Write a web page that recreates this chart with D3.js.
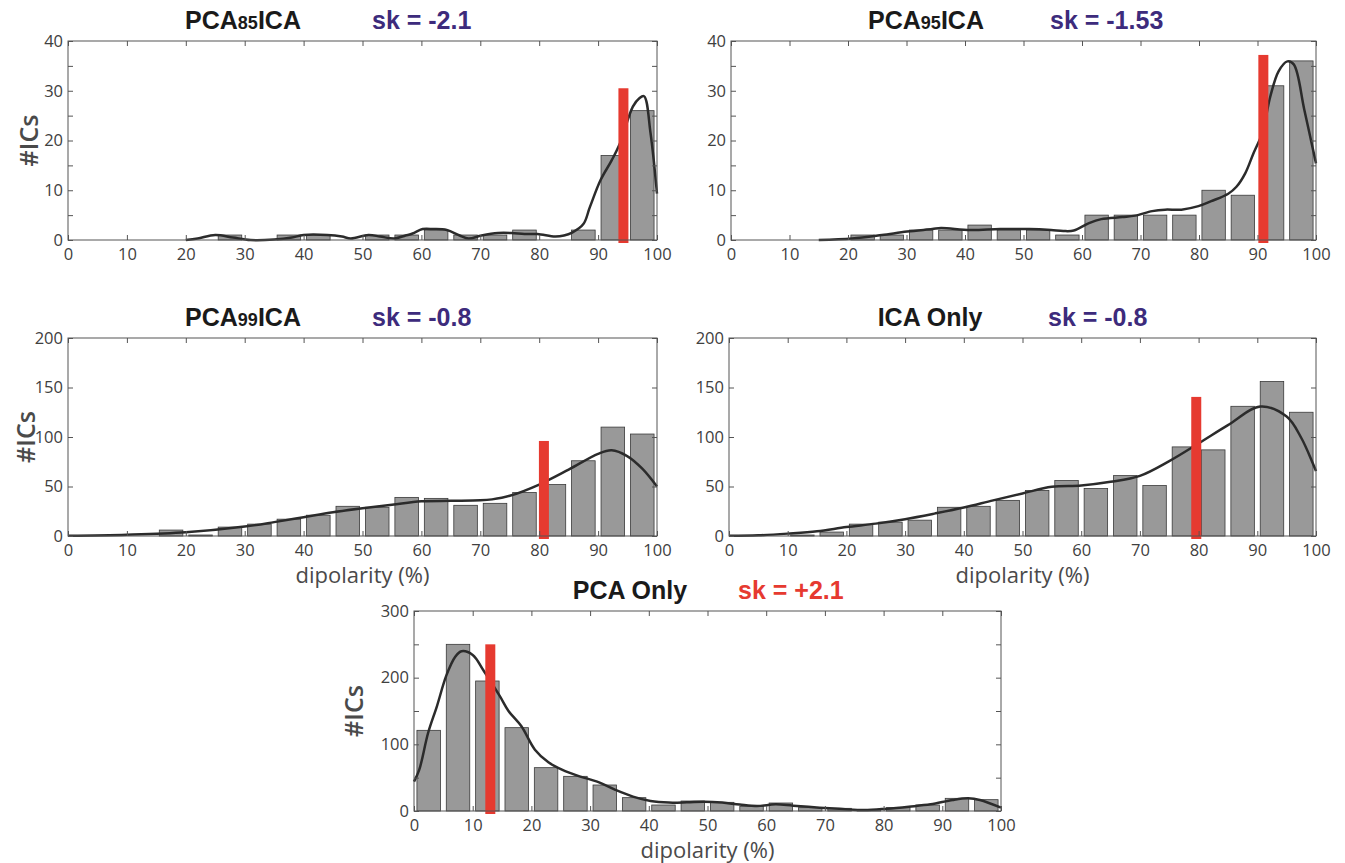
<!DOCTYPE html>
<html>
<head>
<meta charset="utf-8">
<script src="https://cdn.jsdelivr.net/npm/d3@7"></script>
<style>
  body { margin: 0; background: #fff; }
  .tick text { font-family: "Open Sans", sans-serif; font-size: 16.5px; fill: #404040; }
  .tick line { stroke: #555; }
  .bar { fill: #999999; stroke: #3a3a3a; stroke-width: 0.8; }
  .kde { fill: none; stroke: #2b2b2b; stroke-width: 2.5; }
  .median { fill: #e63a30; }
  .title { font-family: "Liberation Sans", Arial, sans-serif; font-weight: bold; font-size: 25px; fill: #1a1a1a; }
  .sk { font-family: "Liberation Sans", Arial, sans-serif; font-weight: bold; font-size: 25px; }
  .ylabel { font-family: "Open Sans", sans-serif; font-weight: 600; font-size: 25px; fill: #4a4a4a; }
  .xlabel { font-family: "Open Sans", sans-serif; font-size: 22px; fill: #4a4a4a; }
</style>
</head>
<body>
<div id="chart"></div>
<script>
// histogram bins (dipolarity %), 5-wide
var binStarts = [0, 5, 10, 15, 20, 25, 30, 35, 40, 45, 50, 55, 60, 65, 70, 75, 80, 85, 90, 95];
var binWidth = 5;

// counts per bin
var pca85Counts = [0, 0, 0, 0, 0, 1, 0, 1, 1, 0, 1, 1, 2, 1, 1, 2, 0, 2, 17, 26];
var pca95Counts = [0, 0, 0, 0, 1, 1, 2, 2, 3, 2, 2, 1, 5, 5, 5, 5, 10, 9, 31, 36];
var pca99Counts = [0, 0, 0, 6, 1, 9, 12, 17, 21, 30, 29, 39, 38, 31, 33, 44, 52, 76, 110, 103];
var icaCounts   = [0, 0, 1, 4, 12, 14, 16, 29, 30, 36, 46, 56, 48, 61, 51, 90, 87, 131, 156, 125];
var pcaCounts   = [121, 250, 195, 125, 65, 52, 39, 20, 9, 15, 13, 7, 12, 5, 4, 2, 5, 9, 19, 17];

// density curves
var pca85CurveX = [20, 22, 25, 28, 31, 35, 38, 40, 44, 46.5, 48, 51, 53, 55.4, 57.3, 58.5, 60.2, 62, 64.3, 66.5, 68, 70.2, 73, 75.3, 77.5, 79.7, 82.7, 84.2, 85.6, 87.5, 88.6, 90.4, 92.3, 93.7, 95.9, 97, 97.8, 98.9, 100];
var pca85CurveY = [0, 0.3, 1.0, 0.5, 0, 0.1, 0.5, 1.0, 1.0, 0.7, 0.3, 1.0, 0.7, 0.3, 0.9, 1.3, 2.2, 2.2, 2.0, 0.9, 0.3, 0.9, 1.4, 1.4, 1.2, 1.2, 0.7, 0.9, 1.5, 3.2, 6.6, 12, 16, 19.4, 26.8, 28.5, 28.9, 21.5, 9.3];

var pca95CurveX = [15, 20.7, 25.8, 30.1, 34.4, 35.9, 40.9, 46, 51, 54.7, 56.8, 58.6, 61.2, 63.3, 66.9, 69.1, 72, 74.2, 77, 79.9, 82.1, 85, 86.4, 87.9, 89.3, 90.8, 92.2, 93.6, 95.1, 96.2, 98, 100];
var pca95CurveY = [0, 0.3, 1.0, 1.7, 2.2, 2.4, 2.0, 2.2, 2.2, 2.0, 1.8, 1.9, 3.4, 4.2, 4.6, 4.9, 5.8, 6.1, 6.1, 6.8, 7.8, 9.3, 10.7, 13.4, 17.4, 21.5, 28.9, 33.9, 35.9, 35.3, 26.2, 15.4];

var pca99CurveX = [0, 10, 20, 30, 35, 40, 45, 50, 55, 60, 65, 70, 72, 75, 80, 85, 90, 92.3, 95, 97.5, 100];
var pca99CurveY = [0.3, 1.3, 3.7, 9.5, 14, 19, 24, 28, 31.5, 35, 35.5, 36, 37, 40.6, 52, 67, 83, 86.6, 80.5, 68, 50];

var icaCurveX = [0, 5, 10, 15, 20, 25, 30, 35, 40, 45, 50, 55, 60, 65, 70, 75, 80, 85, 90.5, 95, 97.5, 100];
var icaCurveY = [0.2, 0.7, 2.4, 4.7, 9, 12.5, 17, 22.6, 28.7, 36, 43, 49.7, 51, 54.7, 60.8, 75.7, 93.6, 112, 130.7, 120.6, 99, 65.5];

var pcaCurveX = [0, 0.9, 2.4, 3.9, 5.5, 7, 8.1, 10, 11.9, 14.6, 16.1, 18.3, 20.6, 22.9, 25.2, 28.2, 31.2, 34.3, 37.3, 40.3, 43.4, 46.5, 49.5, 52.5, 55.5, 58.5, 61.6, 64.6, 69.1, 73, 76.7, 80.5, 84.3, 88, 91.8, 94.4, 96.4, 100];
var pcaCurveY = [44, 62, 117, 157, 203, 231, 239.6, 234, 210, 172.6, 150, 127, 92, 73, 62, 52, 44, 31.7, 21.6, 15, 12.6, 13, 14, 12.6, 9.6, 7.5, 10, 8, 5, 3, 1.5, 3.5, 6.5, 10, 16.6, 19, 16.6, 5];

// median markers (red) : position and height
var medianX = [94.3, 91, 80.8, 79.6, 13];
var medianTop = [30.5, 37.2, 96, 140.5, 250];

// titles
var titleMain = [["PCA", "85", "ICA"], ["PCA", "95", "ICA"], ["PCA", "99", "ICA"], ["ICA Only"], ["PCA Only"]];
var titleSk = ["sk = -2.1", "sk = -1.53", "sk = -0.8", "sk = -0.8", "sk = +2.1"];

var xTicks = [0, 10, 20, 30, 40, 50, 60, 70, 80, 90, 100];

var width = 1345, height = 863;

var svg = d3.select("#chart").append("svg")
    .attr("width", width)
    .attr("height", height);

// panel layout
var panels = [
  {left: 68,  right: 657,  top: 41,  bottom: 240, yMax: 40,  yStep: 5,  yLabelStep: 10,  counts: pca85Counts, cx: pca85CurveX, cy: pca85CurveY, titleX: 243, skX: 372, ylab: 39, xlab: false, skColor: "#3d2b7c"},
  {left: 731, right: 1316, top: 41,  bottom: 240, yMax: 40,  yStep: 5,  yLabelStep: 10,  counts: pca95Counts, cx: pca95CurveX, cy: pca95CurveY, titleX: 926, skX: 1050, ylab: null, xlab: false, skColor: "#3d2b7c"},
  {left: 68,  right: 657,  top: 338, bottom: 536, yMax: 200, yStep: 50, yLabelStep: 50,  counts: pca99Counts, cx: pca99CurveX, cy: pca99CurveY, titleX: 243, skX: 372, ylab: 42, xlab: true, skColor: "#3d2b7c"},
  {left: 729, right: 1316, top: 338, bottom: 536, yMax: 200, yStep: 50, yLabelStep: 50,  counts: icaCounts,   cx: icaCurveX,   cy: icaCurveY,   titleX: 930, skX: 1048, ylab: null, xlab: true, skColor: "#3d2b7c"},
  {left: 414, right: 1001, top: 611, bottom: 811, yMax: 300, yStep: 50, yLabelStep: 100, counts: pcaCounts,   cx: pcaCurveX,   cy: pcaCurveY,   titleX: 630, skX: 738, ylab: 60, xlab: true, skColor: "#e63a30"}
];

panels.forEach(function(p, i) {
  var x = d3.scaleLinear().domain([0, 100]).range([p.left, p.right]);
  var y = d3.scaleLinear().domain([0, p.yMax]).range([p.bottom, p.top]);
  var g = svg.append("g");

  // bars
  var bins = binStarts.map(function(b, j) { return {x0: b, v: p.counts[j]}; })
      .filter(function(d) { return d.v > 0; });
  g.selectAll(".bar").data(bins).enter().append("rect")
      .attr("class", "bar")
      .attr("x", function(d) { return x(d.x0 + binWidth * 0.1); })
      .attr("width", function(d) { return x(binWidth * 0.8) - x(0); })
      .attr("y", function(d) { return y(d.v); })
      .attr("height", function(d) { return y(0) - y(d.v); });

  // density line
  var pts = p.cx.map(function(v, j) { return [v, p.cy[j]]; });
  var line = d3.line()
      .x(function(d) { return x(d[0]); })
      .y(function(d) { return y(d[1]); })
      .curve(d3.curveCatmullRom.alpha(0.5));
  g.append("path").datum(pts).attr("class", "kde").attr("d", line);

  // median marker
  g.append("rect")
      .attr("class", "median")
      .attr("x", x(medianX[i]) - 5)
      .attr("width", 10)
      .attr("y", y(medianTop[i]))
      .attr("height", y(0) - y(medianTop[i]) + 3);

  // axes (ticks point inward, matlab style)
  var yTicks = d3.range(0, p.yMax + 0.001, p.yStep);
  g.append("g")
      .attr("transform", "translate(0," + p.bottom + ")")
      .call(d3.axisBottom(x).tickValues(xTicks).tickSizeInner(-5).tickSizeOuter(0).tickPadding(8));
  g.append("g")
      .attr("transform", "translate(0," + p.top + ")")
      .call(d3.axisTop(x).tickValues(xTicks).tickSizeInner(-5).tickSizeOuter(0).tickFormat(""));
  g.append("g")
      .attr("transform", "translate(" + p.left + ",0)")
      .call(d3.axisLeft(y).tickValues(yTicks).tickSizeInner(-5).tickSizeOuter(0).tickPadding(5)
        .tickFormat(function(d) { return d % p.yLabelStep === 0 ? d : ""; }));
  g.append("g")
      .attr("transform", "translate(" + p.right + ",0)")
      .call(d3.axisRight(y).tickValues(yTicks).tickSizeInner(-5).tickSizeOuter(0).tickFormat(""));
  g.selectAll(".domain").remove();

  g.append("rect")
      .attr("x", p.left).attr("y", p.top)
      .attr("width", p.right - p.left).attr("height", p.bottom - p.top)
      .attr("fill", "none").attr("stroke", "#555").attr("stroke-width", 1);

  // titles
  var t = g.append("text").attr("class", "title")
      .attr("x", p.titleX).attr("y", p.top - 12)
      .attr("text-anchor", "middle");
  titleMain[i].forEach(function(s, k) {
    t.append("tspan").text(s).style("font-size", k === 1 ? "18px" : null);
  });
  g.append("text").attr("class", "sk")
      .attr("x", p.skX).attr("y", p.top - 12)
      .attr("fill", p.skColor)
      .text(titleSk[i]);

  if (p.ylab !== null) {
    g.append("text").attr("class", "ylabel")
        .attr("transform", "translate(" + (p.left - p.ylab + 9) + "," + ((p.top + p.bottom) / 2) + ") rotate(-90)")
        .attr("text-anchor", "middle")
        .text("#ICs");
  }
  if (p.xlab) {
    g.append("text").attr("class", "xlabel")
        .attr("x", (p.left + p.right) / 2).attr("y", p.bottom + 47)
        .attr("text-anchor", "middle")
        .text("dipolarity (%)");
  }
});
</script>
</body>
</html>
